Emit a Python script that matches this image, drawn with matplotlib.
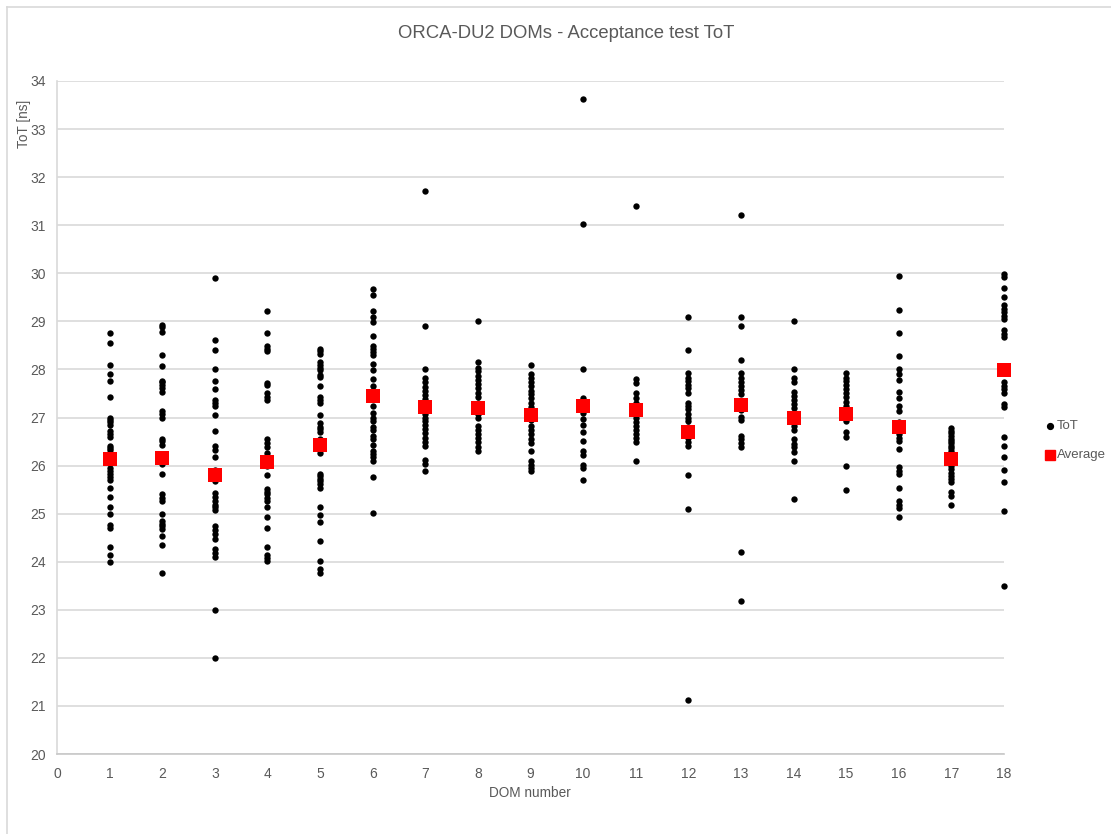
import matplotlib
matplotlib.use("Agg")
import matplotlib.pyplot as plt
from matplotlib.lines import Line2D

FONT = ['Liberation Sans', 'DejaVu Sans']
plt.rcParams['font.family'] = FONT

dom_numbers = list(range(1, 19))

tot_values = {
    1: [28.75, 28.55, 28.1, 27.9, 27.75, 27.42, 27.0, 26.95, 26.9, 26.85, 26.72, 26.65, 26.6, 26.4, 26.37,
        26.32, 26.2, 26.1, 25.95, 25.88, 25.82, 25.77, 25.7, 25.53, 25.35, 25.14, 25.0, 24.76, 24.7, 24.3, 24.15, 24.0],
    2: [28.92, 28.88, 28.77, 28.31, 28.08, 27.76, 27.73, 27.68, 27.61, 27.53, 27.14, 27.07, 27.0, 26.56, 26.51,
        26.43, 26.2, 26.04, 25.82, 25.4, 25.33, 25.26, 25.0, 24.85, 24.79, 24.74, 24.69, 24.53, 24.34, 23.76],
    3: [29.9, 28.61, 28.4, 28.0, 27.76, 27.6, 27.36, 27.3, 27.24, 27.06, 26.72, 26.41, 26.32, 26.17, 25.9,
        25.68, 25.42, 25.35, 25.26, 25.19, 25.13, 25.07, 24.74, 24.67, 24.58, 24.47, 24.26, 24.19, 24.1, 23.0, 22.0],
    4: [29.21, 28.76, 28.49, 28.42, 28.39, 27.72, 27.68, 27.52, 27.43, 27.36, 26.55, 26.47, 26.38, 26.27, 26.2,
        26.0, 25.8, 25.51, 25.45, 25.4, 25.33, 25.26, 25.14, 24.93, 24.71, 24.31, 24.14, 24.08, 24.01],
    5: [28.42, 28.38, 28.33, 28.15, 28.1, 28.04, 27.99, 27.89, 27.84, 27.66, 27.43, 27.37, 27.31, 27.05, 26.88,
        26.81, 26.76, 26.69, 26.55, 26.26, 25.83, 25.78, 25.73, 25.68, 25.61, 25.54, 25.14, 24.97, 24.83, 24.44,
        24.01, 23.84, 23.76],
    6: [29.67, 29.55, 29.22, 29.1, 28.98, 28.7, 28.49, 28.42, 28.37, 28.31, 28.11, 27.99, 27.8, 27.66, 27.45,
        27.24, 27.1, 27.0, 26.93, 26.81, 26.74, 26.62, 26.55, 26.42, 26.31, 26.24, 26.17, 26.1, 25.76, 25.02],
    7: [31.72, 28.91, 28.01, 27.82, 27.73, 27.64, 27.56, 27.47, 27.38, 27.3, 27.2, 27.15, 27.07, 27.0, 26.93,
        26.85, 26.76, 26.67, 26.58, 26.5, 26.41, 26.11, 26.03, 25.89],
    8: [29.0, 28.15, 28.04, 27.96, 27.87, 27.78, 27.69, 27.61, 27.52, 27.43, 27.3, 27.25, 27.15, 27.1, 27.07,
        27.0, 26.83, 26.74, 26.65, 26.57, 26.48, 26.39, 26.31],
    9: [28.09, 27.91, 27.83, 27.74, 27.65, 27.56, 27.48, 27.4, 27.31, 27.22, 27.15, 27.1, 27.0, 26.95, 26.82,
        26.73, 26.65, 26.56, 26.47, 26.3, 26.1, 26.02, 25.95, 25.88],
    10: [33.62, 31.02, 28.0, 27.4, 27.3, 27.2, 27.1, 26.96, 26.85, 26.7, 26.51, 26.31, 26.22, 26.02, 25.94, 25.69],
    11: [31.41, 27.81, 27.72, 27.51, 27.41, 27.31, 27.2, 27.1, 27.05, 26.99, 26.91, 26.82, 26.73, 26.65, 26.58,
         26.49, 26.09],
    12: [29.1, 28.4, 27.92, 27.83, 27.76, 27.68, 27.61, 27.52, 27.31, 27.24, 27.17, 27.08, 27.0, 26.92, 26.81,
         26.75, 26.65, 26.57, 26.48, 26.4, 25.8, 25.1, 21.12],
    13: [31.22, 29.1, 28.91, 28.2, 27.92, 27.83, 27.74, 27.66, 27.57, 27.49, 27.35, 27.2, 27.15, 27.01, 26.94,
         26.62, 26.55, 26.46, 26.39, 24.2, 23.19],
    14: [29.0, 28.01, 27.83, 27.74, 27.54, 27.45, 27.36, 27.28, 27.19, 27.05, 26.95, 26.9, 26.83, 26.74, 26.55,
         26.44, 26.38, 26.29, 26.1, 25.3],
    15: [27.92, 27.83, 27.76, 27.68, 27.59, 27.5, 27.42, 27.33, 27.24, 27.15, 27.0, 26.92, 26.69, 26.6, 26.0, 25.49],
    16: [29.95, 29.23, 28.76, 28.28, 28.01, 27.9, 27.78, 27.54, 27.4, 27.24, 27.14, 26.9, 26.75, 26.7, 26.65,
         26.58, 26.51, 26.34, 25.96, 25.89, 25.83, 25.54, 25.26, 25.19, 25.11, 24.93],
    17: [26.78, 26.72, 26.67, 26.62, 26.56, 26.51, 26.46, 26.41, 26.36, 26.31, 26.25, 26.2, 26.1, 26.05, 25.99,
         25.92, 25.85, 25.78, 25.72, 25.65, 25.44, 25.37, 25.19],
    18: [29.98, 29.92, 29.7, 29.5, 29.33, 29.26, 29.19, 29.12, 29.05, 28.81, 28.74, 28.68, 27.73, 27.66, 27.59,
         27.52, 27.29, 27.22, 26.6, 26.4, 26.17, 25.9, 25.65, 25.06, 23.49],
}

average_values = [26.13, 26.15, 25.81, 26.08, 26.42, 27.45, 27.22, 27.19, 27.06, 27.23,
                  27.15, 26.69, 27.26, 27.00, 27.08, 26.81, 26.14, 27.99]

x_ticks = list(range(0, 19))
y_ticks = list(range(20, 35))
series_names = ['ToT', 'Average']

TXT = '#595959'
GRID = '#d9d9d9'
W, H = 1111, 834

fig = plt.figure(figsize=(W / 100, H / 100), dpi=100)
ax = fig.add_axes([57 / W, 1 - 754 / H, (1004 - 57) / W, (754 - 81) / H])

xs, ys = [], []
for d in dom_numbers:
    for v in tot_values[d]:
        xs.append(d)
        ys.append(v)

sc1 = ax.scatter(xs, ys, s=21, color='black', linewidths=0, zorder=3, clip_on=False)
sc2 = ax.scatter(dom_numbers, average_values, s=95, marker='s', color='#ff0000',
                 linewidths=0, zorder=4, clip_on=False)

ax.set_xlim(0, 18)
ax.set_ylim(20, 34)
ax.set_xticks(x_ticks)
ax.set_yticks(y_ticks)
ax.yaxis.grid(True, color=GRID, linewidth=1.2, zorder=0)
ax.xaxis.grid(False)
ax.set_axisbelow(True)
for s in ['top', 'right']:
    ax.spines[s].set_visible(False)
ax.spines['bottom'].set_color('#c8c8c8')
ax.spines['left'].set_color(GRID)
ax.spines['bottom'].set_linewidth(1.2)
ax.spines['left'].set_linewidth(1.2)
ax.tick_params(axis='both', length=0, labelsize=10, labelcolor=TXT)
ax.tick_params(axis='x', pad=9)
ax.tick_params(axis='y', pad=8)

fig.text(566 / W, 1 - 33 / H, 'ORCA-DU2 DOMs - Acceptance test ToT', ha='center', va='center',
         fontsize=13.3, color=TXT)
fig.text(530 / W, 1 - 793 / H, 'DOM number', ha='center', va='center', fontsize=9.8, color=TXT)
fig.text(24 / W, 1 - 124 / H, 'ToT [ns]', ha='center', va='center', rotation=90,
         fontsize=9.8, color=TXT)

# legend (drawn in figure coordinates)
fig.add_artist(Line2D([1050 / W], [1 - 426 / H], marker='o', markersize=4.2, color='black',
                      linestyle='none', transform=fig.transFigure))
fig.add_artist(Line2D([1050 / W], [1 - 455 / H], marker='s', markersize=6.5, color='#ff0000',
                      linestyle='none', transform=fig.transFigure))
fig.text(1057 / W, 1 - 426 / H, series_names[0], ha='left', va='center', fontsize=9.5, color=TXT)
fig.text(1057 / W, 1 - 455 / H, series_names[1], ha='left', va='center', fontsize=9.5, color=TXT)

# chart area border
fig.add_artist(Line2D([7 / W, 7 / W], [0, 1 - 7 / H], transform=fig.transFigure,
                      color=GRID, linewidth=1.2))
fig.add_artist(Line2D([7 / W, 1], [1 - 7 / H, 1 - 7 / H], transform=fig.transFigure,
                      color=GRID, linewidth=1.2))

fig.savefig('out.png', dpi=100)
